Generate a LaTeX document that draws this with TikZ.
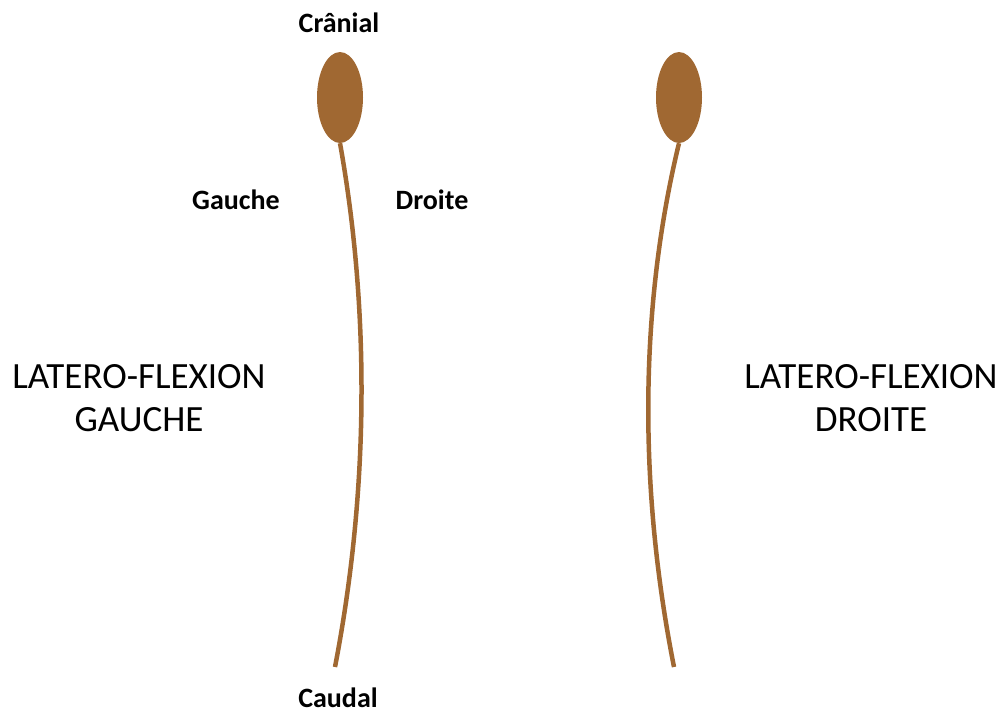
\documentclass[tikz,border=0pt]{standalone}
\usepackage{fontspec}
\setmainfont{Carlito}
\usetikzlibrary{shapes.geometric}
\definecolor{spine}{RGB}{160,104,50}
\begin{document}
\begin{tikzpicture}[x=1pt,y=-1pt,
  tag/.style={font=\fontsize{28}{33}\selectfont\bfseries, inner sep=0pt, anchor=base},
  title/.style={font=\fontsize{37}{43}\selectfont, align=center, inner sep=0pt, anchor=base},
  head/.style={ellipse, fill=spine, minimum width=46pt, minimum height=91pt, inner sep=0pt},
  cord/.style={draw=spine, line width=4.5pt}]
\useasboundingbox (0,0) rectangle (1005,713);
% left: lateral flexion to the left
\node[head] (hl) at (340,97.5) {};
\coordinate (tl) at (335,667);
\draw[cord] (hl.south) .. controls (368,300) and (371,480) .. (tl);
\node[tag] (cran) at (339,32) {Crânial};
\node[tag] (gau) at (236,209) {Gauche};
\node[tag] (dro) at (432,209) {Droite};
\node[tag] (cau) at (338,707) {Caudal};
\node[title] (lfg) at (139,431) {LATERO-FLEXION\\GAUCHE};
% right: lateral flexion to the right
\node[head] (hr) at (679,97.5) {};
\coordinate (tr) at (674,667);
\draw[cord] (hr.south) .. controls (641,300) and (637,480) .. (tr);
\node[title] (lfd) at (871,431) {LATERO-FLEXION\\DROITE};
\end{tikzpicture}
\end{document}
